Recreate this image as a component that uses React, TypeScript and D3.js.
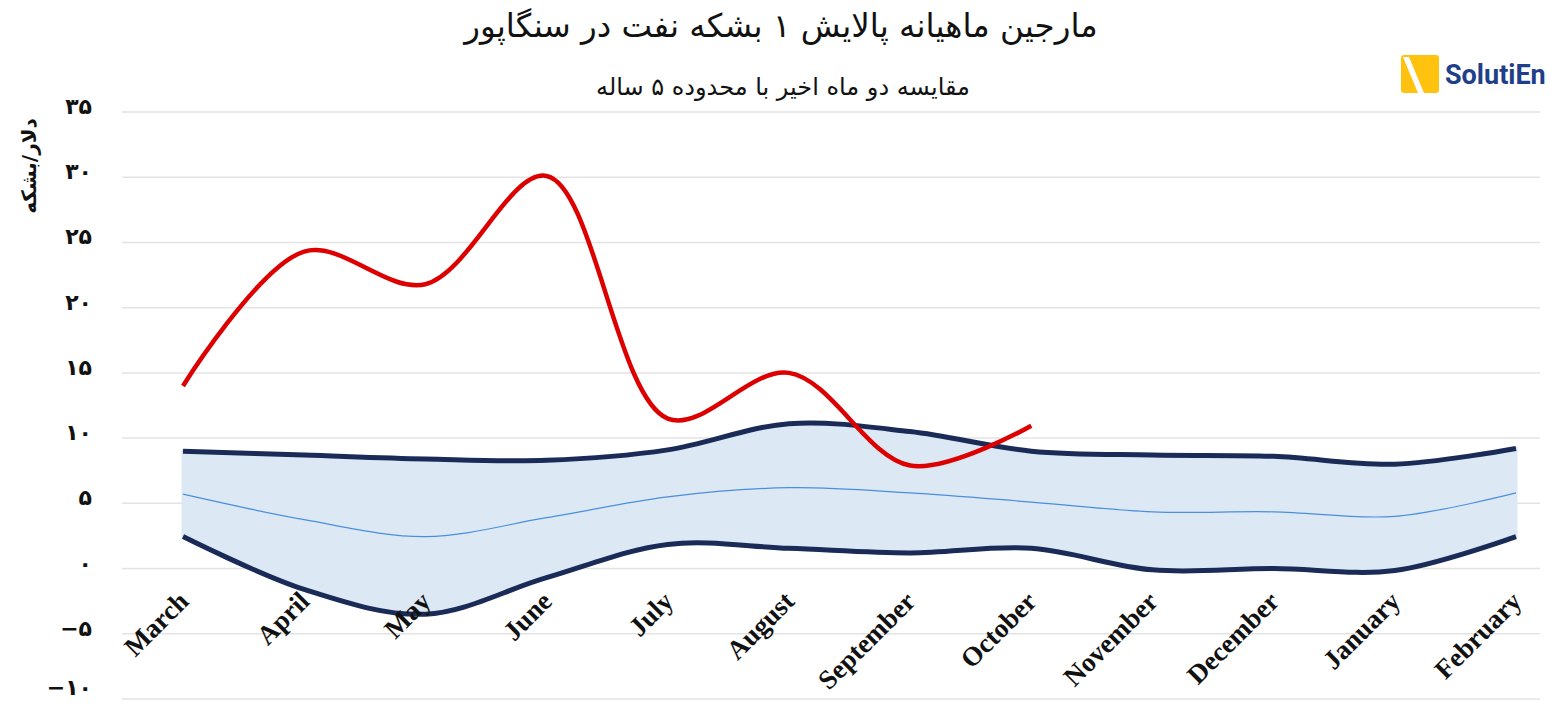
import React from "react";
import * as d3 from "d3";

const months = ["March","April","May","June","July","August","September","October","November","December","January","February"];
const upperBand = [9.0, 8.7, 8.4, 8.3, 9.1, 11.1, 10.5, 9.0, 8.7, 8.6, 8.0, 9.2];
const lowerBand = [2.45, -1.6, -3.5, -0.7, 1.85, 1.55, 1.2, 1.55, -0.1, 0.0, -0.15, 2.45];
const avgLine = [5.7, 3.75, 2.45, 3.9, 5.5, 6.2, 5.8, 5.1, 4.35, 4.35, 4.0, 5.8];
const recentLine = [14.0, 24.3, 21.8, 30.1, 11.5, 15.0, 7.9, 10.95];
const yTicks = [-10, -5, 0, 5, 10, 15, 20, 25, 30, 35];
const yTickLabels = ["−۱۰", "−۵", "۰", "۵", "۱۰", "۱۵", "۲۰", "۲۵", "۳۰", "۳۵"];

const title = "مارجین ماهیانه پالایش ۱ بشکه نفت در سنگاپور";
const subtitle = "مقایسه دو ماه اخیر با محدوده ۵ ساله";
const yAxisTitle = "دلار/بشکه";

export default function App() {
  const W = 1557, H = 704;
  const x = d3.scalePoint<string>().domain(months).range([183, 1516]);
  const y = d3.scaleLinear().domain([-10, 35]).range([699, 112]);
  const curve = d3.curveCatmullRom.alpha(0.5);

  const band = d3.area<number>()
    .x((_, i) => x(months[i])!)
    .y0((_, i) => y(lowerBand[i]))
    .y1((_, i) => y(upperBand[i]))
    .curve(curve);
  const line = d3.line<number>()
    .x((_, i) => x(months[i])!)
    .y((d) => y(d))
    .curve(curve);

  return (
    <svg width={W} height={H} style={{ position: "absolute", left: 0, top: 0, background: "#fff" }}>
      {yTicks.map((t, i) => (
        <g key={t}>
          <line x1={122} x2={1540} y1={y(t)} y2={y(t)} stroke="#e3e3e3" strokeWidth={1.5} />
          <text x={92} y={Math.min(y(t) - 4, H - 15)} textAnchor="end" dominantBaseline="middle"
            fontFamily="DejaVu Sans" fontWeight="bold" fontSize={22} fill="#111">{yTickLabels[i]}</text>
        </g>
      ))}
      <path d={band(upperBand) || ""} fill="#dde8f5" stroke="#dde8f5" strokeWidth={3} />
      <path d={line(avgLine) || ""} fill="none" stroke="#4a8fdc" strokeWidth={1.2} />
      <path d={line(upperBand) || ""} fill="none" stroke="#1b2b58" strokeWidth={5} />
      <path d={line(lowerBand) || ""} fill="none" stroke="#1b2b58" strokeWidth={5} />
      <path d={line(recentLine) || ""} fill="none" stroke="#dd0000" strokeWidth={4.5} />
      {months.map((m) => (
        <text key={m} transform={`translate(${x(m)! + 7},${603}) rotate(-45)`} textAnchor="end"
          fontFamily="Liberation Serif" fontWeight="bold" fontSize={27} fill="#111">{m}</text>
      ))}
      <text x={781} y={28} textAnchor="middle" dominantBaseline="middle" fontFamily="DejaVu Sans"
        fontSize={32.5} fill="#111">{title}</text>
      <text x={783} y={88} textAnchor="middle" dominantBaseline="middle" fontFamily="DejaVu Sans"
        fontSize={24} fill="#111">{subtitle}</text>
      <text transform={`translate(30,166) rotate(-90)`} textAnchor="middle" dominantBaseline="middle"
        fontFamily="DejaVu Sans" fontWeight="bold" fontSize={20} fill="#111">{yAxisTitle}</text>
      <g>
        <rect x={1401} y={55} width={38} height={38} rx={3} fill="#FFC20E" />
        <polygon points="1403,57 1409,57 1424,93 1418,93" fill="#fff" />
        <text x={1445} y={77} dominantBaseline="middle" fontFamily="Roboto" fontWeight="bold"
          fontSize={27} fill="#1f3f8a">SolutiEn</text>
      </g>
    </svg>
  );
}
